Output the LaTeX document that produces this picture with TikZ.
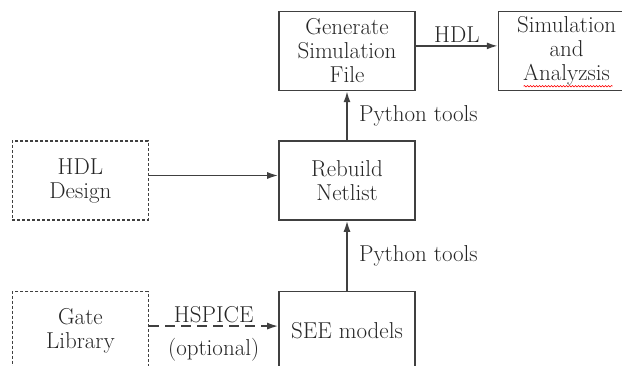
\documentclass[tikz,border=0pt]{standalone}
\usepackage{fontspec}
\usepackage{tikz}
\usetikzlibrary{
  positioning,
  decorations.pathmorphing,
  arrows.meta
}

\begin{document}
\begin{tikzpicture}[x=1pt,y=1pt,auto,>={Latex[length=11pt,width=7pt]},
    every node/.style={font=\fontsize{23}{24}\selectfont,text=black!85},
    block/.style={draw=black!75,line width=1.6pt,minimum width=136pt,minimum height=79pt,align=center,inner sep=2pt},
    inbox/.style={block,dash pattern=on 3pt off 2pt},
    link/.style={->,draw=black!75,line width=1.6pt}]
    \useasboundingbox (0,0) rectangle (622,365);
    \node[block] (rebuild) at (347,184.5) {Rebuild\\Netlist};
    \node[block,above=49pt of rebuild] (gen) {Generate\\Simulation\\File};
    \node[block,right=82pt of gen] (sim) {Simulation\\and\\Analyzsis};
    \node[inbox,left=129pt of rebuild] (hdl) {HDL\\Design};
    \node[block,below=70pt of rebuild] (see) {SEE models};
    \node[inbox,left=129pt of see] (gate) {Gate\\Library};
    % arrows
    \draw[link] ([yshift=5pt]gen.east) -- node[above=-1pt]{HDL} ([yshift=5pt]sim.west);
    \draw[link] (rebuild) -- node[right=8pt]{Python tools} (gen);
    \draw[link] ([yshift=5pt]hdl.east) -- ([yshift=5pt]rebuild.west);
    \draw[link] (see) -- node[right=8pt]{Python tools} (rebuild);
    \draw[link,dash pattern=on 10pt off 6pt] ([yshift=5pt]gate.east) -- node[above=-1pt]{HSPICE} node[below=8pt]{(optional)} ([yshift=5pt]see.west);
    % spell-check mark
    \draw[red,line width=0.6pt,decorate,decoration={snake,amplitude=0.7pt,segment length=3pt}]
        ([shift={(-43pt,5pt)}]sim.south) -- ([shift={(46pt,5pt)}]sim.south);
\end{tikzpicture}
\end{document}
